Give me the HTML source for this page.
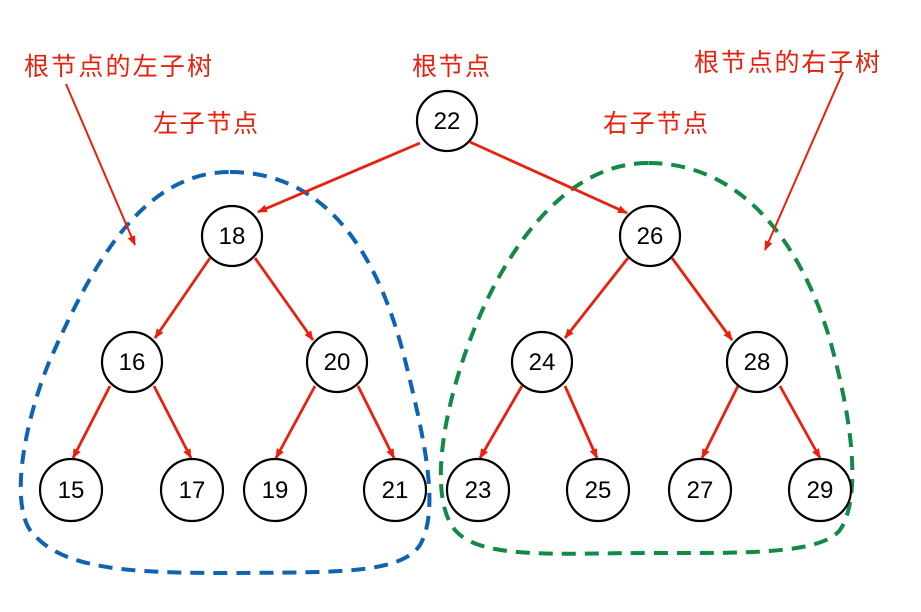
<!DOCTYPE html>
<html><head><meta charset="utf-8"><style>
body{margin:0;background:#fff;}
svg text{font-family:"Liberation Sans","Noto Sans CJK SC",sans-serif;}
</style></head><body>
<svg width="921" height="607" viewBox="0 0 921 607" xmlns="http://www.w3.org/2000/svg">
<defs>
<marker id="a" markerWidth="10" markerHeight="8" refX="9" refY="4" orient="auto" markerUnits="userSpaceOnUse">
<path d="M0,0 L10,4 L0,8 Z" fill="#e8200c"/></marker>
</defs>
<path d="M230 172 C330 172,380 260,405 360 C425 440,440 510,420 545 C400 575,330 572,230 573 C130 573,60 570,30 530 C10 500,25 420,50 360 C90 270,140 172,230 172 Z" fill="none" stroke="#0e64b0" stroke-width="4" stroke-dasharray="14 9"/>
<path d="M648 163 C560 163,500 260,470 340 C440 420,430 500,455 530 C480 560,560 553,650 553 C740 553,820 555,840 530 C860 500,855 430,830 340 C800 240,740 163,648 163 Z" fill="none" stroke="#108a45" stroke-width="4" stroke-dasharray="14 9"/>
<g stroke="#e8200c" stroke-width="2.8" fill="none" marker-end="url(#a)">
<line x1="420" y1="143" x2="258" y2="212"/>
<line x1="470" y1="142" x2="627" y2="213"/>
<line x1="210" y1="258" x2="155" y2="338"/>
<line x1="255" y1="258" x2="313" y2="340"/>
<line x1="628" y1="258" x2="565" y2="338"/>
<line x1="672" y1="258" x2="732" y2="340"/>
<line x1="110" y1="386" x2="73" y2="458"/>
<line x1="154" y1="386" x2="191" y2="458"/>
<line x1="315" y1="386" x2="276" y2="458"/>
<line x1="358" y1="386" x2="394" y2="458"/>
<line x1="522" y1="386" x2="480" y2="458"/>
<line x1="565" y1="386" x2="597" y2="458"/>
<line x1="738" y1="386" x2="702" y2="458"/>
<line x1="780" y1="386" x2="820" y2="458"/>
<line x1="66" y1="84" x2="135" y2="245" stroke-width="2"/>
<line x1="843" y1="72" x2="765" y2="250" stroke-width="2"/>
</g>
<g fill="#fff" stroke="#000" stroke-width="2.2">
<circle cx="447" cy="121" r="30"/><circle cx="232" cy="236" r="30"/><circle cx="650" cy="236" r="30"/>
<circle cx="132" cy="362" r="30"/><circle cx="337" cy="362" r="30"/><circle cx="542" cy="362" r="30"/><circle cx="757" cy="362" r="30"/>
<circle cx="71" cy="490" r="31"/><circle cx="192" cy="490" r="31"/><circle cx="275" cy="490" r="31"/><circle cx="395" cy="490" r="31"/>
<circle cx="478" cy="490" r="31"/><circle cx="598" cy="490" r="31"/><circle cx="700" cy="490" r="31"/><circle cx="820" cy="490" r="31"/>
</g>
<g font-size="24" text-anchor="middle" fill="#000">
<text x="447" y="129">22</text><text x="232" y="244">18</text><text x="650" y="244">26</text>
<text x="132" y="370">16</text><text x="337" y="370">20</text><text x="542" y="370">24</text><text x="757" y="370">28</text>
<text x="71" y="498">15</text><text x="192" y="498">17</text><text x="275" y="498">19</text><text x="395" y="498">21</text>
<text x="478" y="498">23</text><text x="598" y="498">25</text><text x="700" y="498">27</text><text x="820" y="498">29</text>
</g>
<g font-size="25" fill="#e8200c">
<text x="24" y="75" textLength="188">根节点的左子树</text>
<text x="412" y="75" textLength="78">根节点</text>
<text x="694" y="71" textLength="186">根节点的右子树</text>
<text x="153" y="132" textLength="105">左子节点</text>
<text x="603" y="132" textLength="105">右子节点</text>
</g>
</svg>
</body></html>
